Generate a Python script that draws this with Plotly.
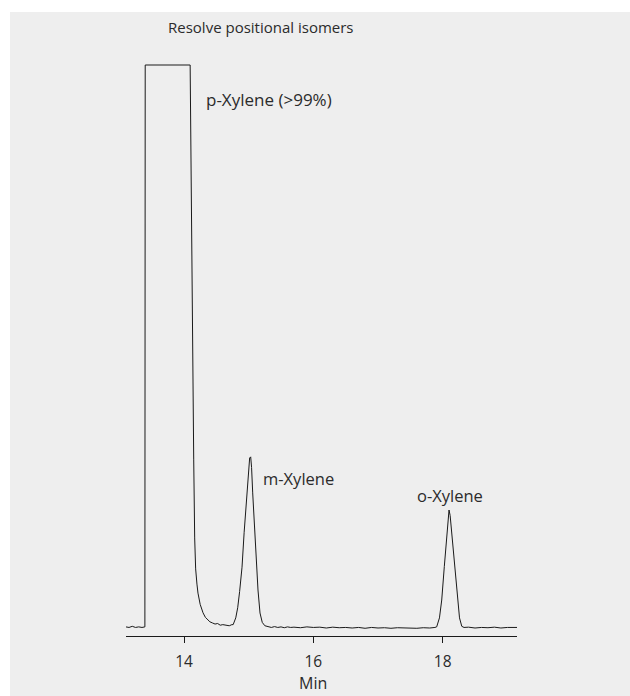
import plotly.graph_objects as go

# Chromatogram (time in min, detector signal in arbitrary units, 100 = saturated)
time_min = [
    13.10, 13.15, 13.20, 13.25, 13.30, 13.35, 13.395, 13.40,
    14.095, 14.11, 14.125, 14.135, 14.15, 14.165, 14.18, 14.20, 14.216, 14.25, 14.294, 14.33,
    14.36, 14.40, 14.44, 14.48, 14.52, 14.56, 14.60, 14.65, 14.70, 14.74, 14.76,
    14.80, 14.83, 14.86, 14.897, 14.93, 14.97, 14.995, 15.015, 15.031, 15.045, 15.062,
    15.09, 15.113, 15.144, 15.175, 15.21, 15.25, 15.30,
    15.35, 15.40, 15.45, 15.50, 15.55, 15.60, 15.65, 15.70, 15.80, 15.90, 16.00, 16.10,
    16.20, 16.30, 16.40, 16.50, 16.60, 16.70, 16.80, 16.90, 17.00, 17.10, 17.20, 17.30,
    17.40, 17.50, 17.60, 17.70, 17.80, 17.88,
    17.907, 17.95, 17.985, 18.025, 18.062, 18.085, 18.098, 18.115, 18.14, 18.18, 18.227,
    18.26, 18.295, 18.33,
    18.40, 18.50, 18.60, 18.70, 18.80, 18.90, 19.00, 19.10, 19.15,
]
signal = [
    0.2, 0.1, 0.3, 0.1, 0.2, 0.1, 0.2, 100,
    100, 78, 60, 47.6, 30, 16, 10.5, 7.8, 6.2, 4.2, 2.7, 1.9,
    1.5, 1.1, 0.9, 0.7, 0.8, 0.5, 0.6, 0.5, 0.4, 0.6, 0.6,
    1.8, 3.6, 6.5, 10.8, 17, 24, 28.2, 30.2, 30.4, 28.5, 24,
    17.4, 12.1, 6.75, 2.66, 1.0, 0.4, 0.2,
    0.1, 0.25, 0.1, 0.2, 0.05, 0.2, 0.1, 0.15, 0.05, 0.2, 0.1, 0.15,
    0.0, 0.15, 0.05, 0.1, 0.0, 0.1, -0.05, 0.1, 0.0, 0.05, -0.05, 0.05,
    0.0, 0.05, -0.05, 0.05, 0.0, 0.1,
    0.2, 1.8, 4.97, 10.9, 16.9, 20.2, 20.96, 20.0, 16.9, 10.9, 4.97,
    1.8, 0.3, 0.1,
    0.15, 0.0, 0.1, 0.05, 0.15, 0.0, 0.1, 0.05, 0.1,
]

peak_labels = ["p-Xylene (>99%)", "m-Xylene", "o-Xylene"]
label_x = [14.31, 15.19, 18.11]
label_y = [93.8, 26.6, 23.6]
label_anchor = ["left", "left", "center"]
label_size = [17, 16.5, 16.5]

tick_vals = [14, 16, 18]
tick_text = ["14", "16", "18"]

FONT = "Open Sans, Noto Sans, DejaVu Sans, sans-serif"
TXT = "#2b2b2b"

fig = go.Figure()
fig.add_trace(go.Scatter(x=time_min, y=signal, mode="lines",
                         line=dict(color="#1a1a1a", width=1), hoverinfo="skip",
                         showlegend=False))

for t, x, y, a, s in zip(peak_labels, label_x, label_y, label_anchor, label_size):
    fig.add_annotation(x=x, y=y, xref="x", yref="y", text=t, showarrow=False,
                       xanchor=a, yanchor="middle", font=dict(size=s, color=TXT, family=FONT))

# plot area geometry (pixels)
L, R, T, B, W, H = 126, 113, 60, 60, 630, 696
pw, ph = W - L - R, H - T - B

def px(xp):
    return (xp - L) / pw

def py(yp):
    return (H - B - yp) / ph

fig.add_annotation(x=px(261), y=py(27), xref="paper", yref="paper",
                   text="Resolve positional isomers", showarrow=False,
                   xanchor="center", yanchor="middle", font=dict(size=15, color=TXT, family=FONT))
fig.add_annotation(x=px(313), y=py(683), xref="paper", yref="paper",
                   text="Min", showarrow=False,
                   xanchor="center", yanchor="middle", font=dict(size=16, color=TXT, family=FONT))

fig.add_shape(type="rect", xref="paper", yref="paper",
              x0=px(10), x1=px(631), y0=py(697), y1=py(12),
              fillcolor="#eeeeee", line=dict(width=0), layer="below")

fig.update_layout(
    width=W, height=H,
    margin=dict(l=L, r=R, t=T, b=B),
    paper_bgcolor="white", plot_bgcolor="rgba(0,0,0,0)",
    font=dict(family=FONT, size=14, color=TXT),
    xaxis=dict(range=[13.103, 19.149], showgrid=False, zeroline=False,
               showline=True, linecolor="#1a1a1a", linewidth=1,
               ticks="outside", ticklen=6, tickcolor="#1a1a1a", tickwidth=1,
               tickvals=tick_vals, ticktext=tick_text, ticklabelstandoff=5,
               tickfont=dict(size=15.5, color=TXT, family=FONT)),
    yaxis=dict(range=[-1.42, 100.89], visible=False),
)

fig.write_html("out.html", config={"displayModeBar": False},
               post_script="document.body.style.margin='0';document.body.style.overflow='hidden';")
